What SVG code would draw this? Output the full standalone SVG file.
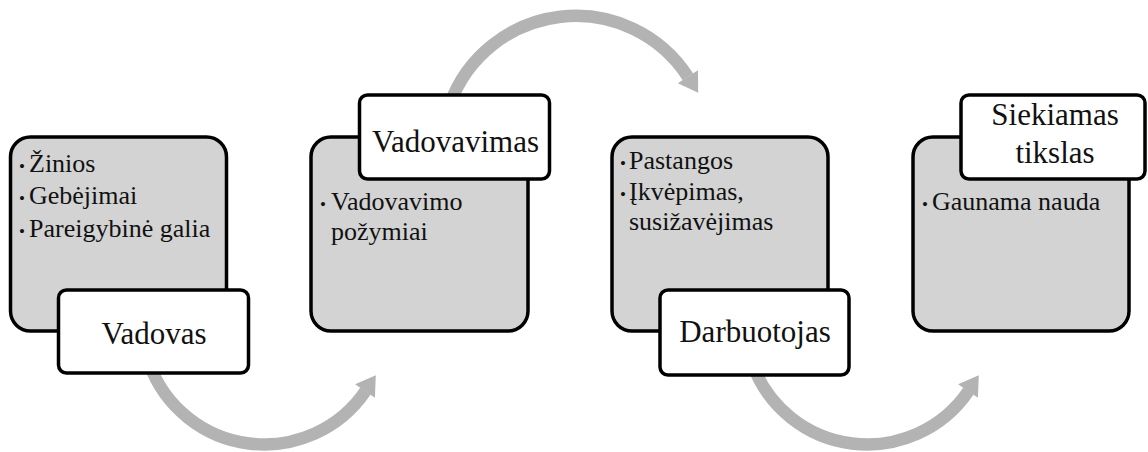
<svg xmlns="http://www.w3.org/2000/svg" width="1148" height="452" viewBox="0 0 1148 452">
  <style>
    .panel { fill: #d3d3d3; stroke: #000; stroke-width: 3.5; }
    .tag { fill: #fff; stroke: #000; stroke-width: 3.5; }
    .flow { fill: none; stroke: #b3b3b3; stroke-width: 12.5; }
    .head { fill: #b3b3b3; }
    .item { font-family: "Liberation Serif", "Times New Roman", serif; font-size: 26px; fill: #111; }
    .dot { font-size: 17px; }
    .title { font-family: "Liberation Serif", "Times New Roman", serif; font-size: 31px; fill: #111; text-anchor: middle; }
  </style>

  <rect width="1148" height="452" fill="#fff"/>

  <!-- curved arrows linking the stages -->
  <g id="connectors">
    <path class="flow" d="M 149.2 363.5 A 122.4 122.4 0 0 0 365.5 391"/>
    <polygon class="head" points="375.8,375.3 374.9,397.8 355.1,384.2"/>
    <path class="flow" d="M 450 103.9 A 133.8 133.8 0 0 1 687.9 76.8"/>
    <polygon class="head" points="698.2,92.7 697.9,70.3 677.8,83.3"/>
    <path class="flow" d="M 752.2 363.5 A 122.4 122.4 0 0 0 968.5 391"/>
    <polygon class="head" points="978.8,375.3 977.9,397.8 958.1,384.2"/>
  </g>

  <!-- stage 1 -->
  <g id="vadovas">
    <rect class="panel" x="10.5" y="137" width="216" height="194" rx="20"/>
    <text class="item" x="19" y="172"><tspan class="dot">•</tspan><tspan x="29">Žinios</tspan></text>
    <text class="item" x="19" y="204"><tspan class="dot">•</tspan><tspan x="29">Gebėjimai</tspan></text>
    <text class="item" x="19" y="237"><tspan class="dot">•</tspan><tspan x="29">Pareigybinė galia</tspan></text>
    <rect class="tag" x="58.5" y="290" width="190" height="83" rx="8"/>
    <text class="title" x="154" y="344">Vadovas</text>
  </g>

  <!-- stage 2 -->
  <g id="vadovavimas">
    <rect class="panel" x="311" y="137" width="217" height="194" rx="20"/>
    <text class="item" x="320" y="210"><tspan class="dot">•</tspan><tspan x="331">Vadovavimo</tspan></text>
    <text class="item" x="331" y="240">požymiai</text>
    <rect class="tag" x="359.5" y="95" width="190" height="84" rx="8"/>
    <text class="title" x="455.5" y="152">Vadovavimas</text>
  </g>

  <!-- stage 3 -->
  <g id="darbuotojas">
    <rect class="panel" x="612" y="137" width="216" height="194" rx="20"/>
    <text class="item" x="620" y="169"><tspan class="dot">•</tspan><tspan x="629">Pastangos</tspan></text>
    <text class="item" x="620" y="200"><tspan class="dot">•</tspan><tspan x="629">Įkvėpimas,</tspan></text>
    <text class="item" x="629" y="230">susižavėjimas</text>
    <rect class="tag" x="660" y="290" width="189" height="85" rx="8"/>
    <text class="title" x="755" y="342">Darbuotojas</text>
  </g>

  <!-- stage 4 -->
  <g id="tikslas">
    <rect class="panel" x="913" y="137" width="216" height="194" rx="20"/>
    <text class="item" x="922" y="210"><tspan class="dot">•</tspan><tspan x="932">Gaunama nauda</tspan></text>
    <rect class="tag" x="961" y="95" width="184" height="84" rx="8"/>
    <text class="title" x="1055" y="125">Siekiamas</text>
    <text class="title" x="1055" y="163">tikslas</text>
  </g>
</svg>
